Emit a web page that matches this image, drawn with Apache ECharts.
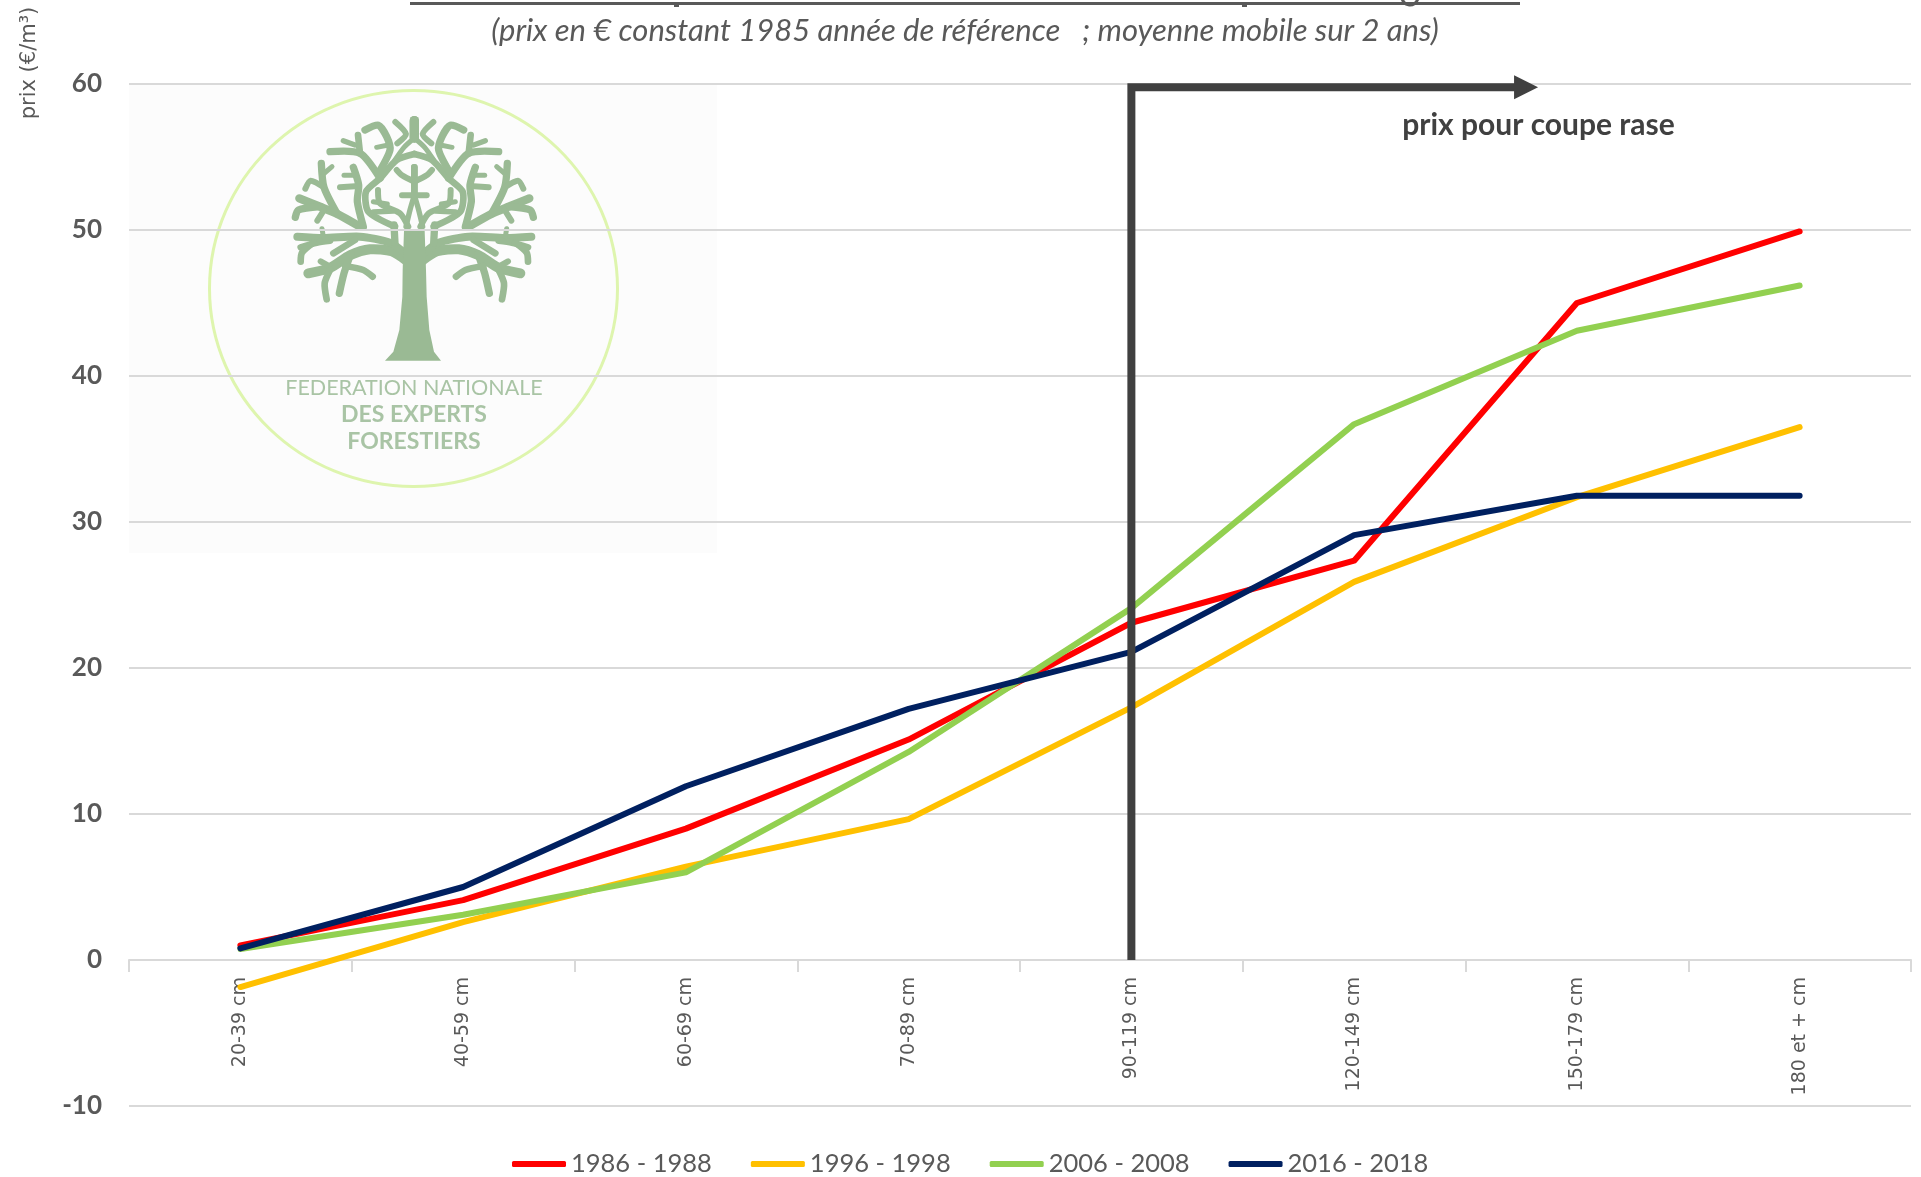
<!DOCTYPE html>
<html>
<head>
<meta charset="utf-8">
<style>html,body{margin:0;padding:0;background:#fff}#c{width:1921px;height:1177px}</style>
<script src="https://cdn.jsdelivr.net/npm/echarts@6/dist/echarts.min.js"></script>
</head>
<body>
<div id="c"></div>
<script>
const categories = ['20-39 cm','40-59 cm','60-69 cm','70-89 cm','90-119 cm','120-149 cm','150-179 cm','180 et + cm'];
const red8688    = [1.0, 4.1, 9.0, 15.1, 23.1, 27.35, 45.0, 49.9];
const yellow9698 = [-1.85, 2.6, 6.4, 9.65, 17.3, 25.9, 31.7, 36.5];
const green0608  = [0.75, 3.1, 6.0, 14.25, 24.1, 36.7, 43.1, 46.2];
const navy1618   = [0.8, 5.0, 11.9, 17.2, 21.1, 29.1, 31.8, 31.8];
const yTicks = {min:-10, max:60, interval:10};
const subtitle = '(prix en € constant 1985 année de référence   ; moyenne mobile sur 2 ans)';
const cutLevel = 59.77;          // annotation: horizontal arm height
const cutStart = 4;              // annotation: category index of 90-119 cm
const cutArrowEnd = 5.772;       // annotation: arrow head centre

// Logo drawing (half a tree, mirrored)
const LEAF = '#9aba94';
const branches = [
  [30,[[380,452],[335,424],[270,418],[210,436],[150,474],[85,490]]],
  [18,[[150,470],[122,454]]],
  [20,[[150,480],[134,520],[140,568]]],
  [22,[[212,432],[192,490],[178,550]]],
  [20,[[196,468],[250,480],[278,500]]],
  [24,[[375,430],[330,398],[240,380],[130,384],[52,380]]],
  [20,[[150,392],[110,398],[62,412]]],
  [20,[[100,398],[66,428],[62,455]]],
  [20,[[225,390],[160,430]]],
  [15,[[130,380],[126,356]]],
  [22,[[345,400],[342,345]]],
  [25,[[240,350],[172,312],[120,290],[58,265]]],
  [22,[[172,312],[132,232],[124,160]]],
  [18,[[132,232],[92,212],[76,236]]],
  [15,[[130,192],[156,170]]],
  [22,[[120,290],[55,300],[46,322]]],
  [18,[[112,332],[132,300]]],
  [22,[[250,350],[232,275],[236,225],[220,172]]],
  [18,[[236,228],[180,232]]],
  [15,[[226,196],[192,196]]],
  [20,[[345,350],[265,305],[258,245],[300,205],[350,150],[403,132]]],
  [22,[[300,205],[240,130],[150,125]]],
  [20,[[240,130],[234,75]]],
  [16,[[225,105],[190,92]]],
  [22,[[295,190],[330,120],[320,80],[295,46],[255,60]]],
  [15,[[325,105],[290,112]]],
  [15,[[345,150],[372,112],[403,84]]],
  [18,[[352,100],[378,72],[346,36]]],
  [28,[[403,84],[403,32]]],
  [18,[[385,350],[360,310],[300,280],[294,240]]],
  [16,[[340,303],[280,306]]],
  [15,[[322,282],[280,275]]],
  [16,[[378,350],[390,300],[403,256]]],
  [18,[[403,256],[366,256]]],
  [20,[[403,256],[403,172]]],
  [18,[[403,215],[366,196],[350,180]]]
];
const trunk = [[315,752],[340,725],[358,660],[367,560],[368,480],[372,362],[434,362],[438,480],[440,560],[448,660],[462,725],[483,752]];

function treeGroup(mirror){
  const k = 1/3;
  return {
    type:'group', x: mirror ? 280+806*k : 280, y:110, scaleX: mirror ? -k : k, scaleY:k, silent:true,
    children: branches.map(b => ({
      type:'polyline', z:-5, shape:{points:b[1], smooth:0.25},
      style:{stroke:LEAF, lineWidth:b[0], lineCap:'round', lineJoin:'round', fill:null}
    }))
  };
}

const chart = echarts.init(document.getElementById('c'));
chart.setOption({
  animation:false,
  backgroundColor:'#fff',
  title:{
    text:subtitle, left:960, top:10, textAlign:'center',
    textStyle:{fontFamily:'Lato', fontStyle:'italic', fontWeight:'normal', fontSize:31, color:'#595959'}
  },
  grid:{left:129, right:10, top:84, bottom:71, outerBoundsMode:'none', containLabel:false},
  legend:{
    left:507, top:1146, itemWidth:54, itemHeight:6, itemGap:39, icon:'roundRect',
    data:['1986 - 1988','1996 - 1998','2006 - 2008','2016 - 2018'],
    textStyle:{fontFamily:'Lato', fontSize:25.5, color:'#595959', padding:[0,0,0,0]}
  },
  xAxis:[
    {type:'category', data:categories, boundaryGap:true,
     axisLine:{onZero:true, lineStyle:{color:'#d9d9d9', width:2}},
     axisTick:{show:true, length:12, lineStyle:{color:'#d9d9d9', width:2}},
     splitLine:{show:false},
     axisLabel:{rotate:90, interval:0, margin:-129, padding:[5,0,0,0], fontFamily:'DejaVu Sans', fontSize:19, color:'#595959'}},
    {type:'value', min:-0.5, max:7.5, show:false}
  ],
  yAxis:{
    type:'value', min:yTicks.min, max:yTicks.max, interval:yTicks.interval,
    axisLine:{show:false}, axisTick:{show:false},
    splitLine:{lineStyle:{color:'#d9d9d9', width:2}},
    axisLabel:{margin:27, fontFamily:'Lato', fontWeight:'bold', fontSize:26, color:'#595959'}
  },
  series:[
    ...[['1986 - 1988',red8688,'#ff0000'],['1996 - 1998',yellow9698,'#ffc000'],['2006 - 2008',green0608,'#92d050'],['2016 - 2018',navy1618,'#002060']].map(s=>({
      name:s[0], type:'line', data:s[1], symbol:'none', z:3,
      lineStyle:{color:s[2], width:6, cap:'round', join:'round'}, itemStyle:{color:s[2]}
    })),
    {
      name:'coupe rase', type:'line', xAxisIndex:1, yAxisIndex:0, symbol:'none', z:6, silent:true,
      data:[[cutStart,0],[cutStart,cutLevel],[cutArrowEnd,cutLevel]],
      lineStyle:{color:'#404040', width:8, cap:'butt', join:'miter'},
      markPoint:{silent:true, symbol:'triangle', symbolSize:[24,24], symbolRotate:-90,
        itemStyle:{color:'#404040'}, label:{show:false},
        data:[{coord:[cutArrowEnd,cutLevel]}]}
    }
  ],
  graphic:[
    {type:'rect', z:-10, silent:true, shape:{x:129,y:85,width:588,height:468}, style:{fill:'#fcfcfc'}},
    {type:'ellipse', z:-9, silent:true, shape:{cx:413.5,cy:288.5,rx:204,ry:198}, style:{fill:null, stroke:'#def5ae', lineWidth:3}},
    treeGroup(false), treeGroup(true),
    {type:'group', x:280, y:110, scaleX:1/3, scaleY:1/3, silent:true, children:[
      {type:'polygon', z:-5, shape:{points:trunk}, style:{fill:LEAF}}
    ]},
    {type:'text', z:-4, silent:true, x:414, y:388, style:{text:'FEDERATION NATIONALE', font:'21.5px Lato', fill:'#a9c4a5', textAlign:'center', textVerticalAlign:'middle'}},
    {type:'text', z:-4, silent:true, x:414, y:415, style:{text:'DES EXPERTS', font:'bold 23px Lato', fill:'#a9c4a5', textAlign:'center', textVerticalAlign:'middle'}},
    {type:'text', z:-4, silent:true, x:414, y:442, style:{text:'FORESTIERS', font:'bold 23px Lato', fill:'#a9c4a5', textAlign:'center', textVerticalAlign:'middle'}},
    {type:'text', silent:true, x:1538.5, y:125, z:10, style:{text:'prix pour coupe rase', font:'bold 30px Lato', fill:'#404040', textAlign:'center', textVerticalAlign:'middle'}},
    {type:'text', silent:true, x:30, y:63, rotation:Math.PI/2, z:10, style:{text:'prix (€/m³)', font:'21px "DejaVu Sans"', fill:'#595959', textAlign:'center', textVerticalAlign:'middle'}},
    {type:'rect', silent:true, z:10, shape:{x:410,y:2,width:1110,height:3}, style:{fill:'#595959'}},
    {type:'rect', silent:true, z:10, shape:{x:674,y:2,width:5,height:5}, style:{fill:'#595959'}},
    {type:'rect', silent:true, z:10, shape:{x:1242,y:2,width:5,height:5}, style:{fill:'#595959'}},
    {type:'arc', silent:true, z:10, shape:{cx:1410,cy:-3,r:8,startAngle:0.2,endAngle:Math.PI-0.2}, style:{stroke:'#595959', lineWidth:3, fill:null}}
  ]
});
</script>
</body>
</html>
